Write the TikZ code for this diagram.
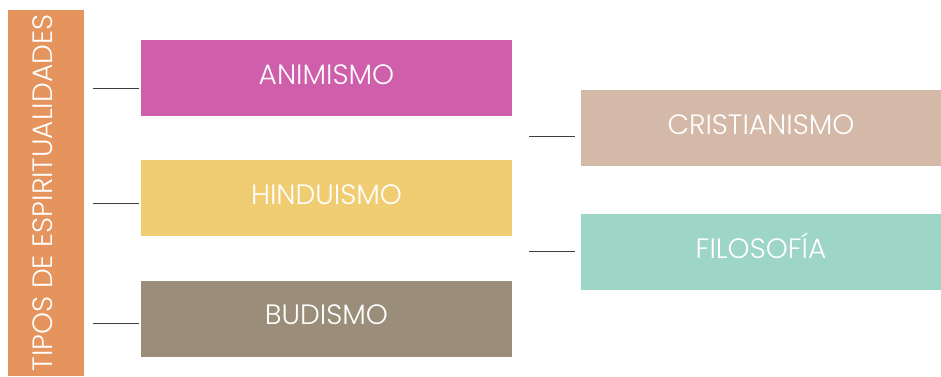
\documentclass[tikz,border=0pt]{standalone}
\usepackage{fontspec}
\setmainfont{Poppins}[UprightFont={* Light}]
\usepackage{tikz}
\usetikzlibrary{positioning}

\definecolor{tiposorange}{HTML}{E4945C}
\definecolor{animismocol}{HTML}{D05FAB}
\definecolor{hinduismocol}{HTML}{F0CC72}
\definecolor{budismocol}{HTML}{9A8D7A}
\definecolor{cristianocol}{HTML}{D4B9A9}
\definecolor{filosofiacol}{HTML}{9DD5C7}

\begin{document}
\begin{tikzpicture}[
  node distance=44pt,
  tipobox/.style={
    rectangle, inner sep=0pt, text=white,
    minimum width=371pt, minimum height=76pt,
    text height=20pt, text depth=8pt,
    font=\fontsize{28}{32}\selectfont
  },
  link/.style={draw=black!75, line width=1pt}
]
\useasboundingbox (0,0) rectangle (941pt,-376pt);

\node (tipos) [tipobox, fill=tiposorange, rotate=90,
  minimum width=366pt, minimum height=76pt] at (46pt,-193pt)
  {TIPOS DE ESPIRITUALIDADES};

\node (animismo) [tipobox, fill=animismocol] at (326.5pt,-78pt) {ANIMISMO};
\node (hinduismo) [tipobox, fill=hinduismocol, below=of animismo] {HINDUISMO};
\node (budismo) [tipobox, fill=budismocol, below=of hinduismo] {BUDISMO};

\node (cristianismo) [tipobox, fill=cristianocol, minimum width=360pt]
  at (761pt,-128pt) {CRISTIANISMO};
\node (filosofia) [tipobox, fill=filosofiacol, minimum width=360pt,
  below=48pt of cristianismo] {FILOSOFÍA};

% free ends of the short lines
\coordinate (a1) at ([xshift=-2pt,yshift=-10pt]animismo.west);
\coordinate (a0) at ([xshift=-46pt]a1);
\coordinate (h1) at ([xshift=-2pt,yshift=-5pt]hinduismo.west);
\coordinate (h0) at ([xshift=-46pt]h1);
\coordinate (b1) at ([xshift=-2pt,yshift=-5pt]budismo.west);
\coordinate (b0) at ([xshift=-46pt]b1);
\coordinate (c1) at ([xshift=-6pt,yshift=-8pt]cristianismo.west);
\coordinate (c0) at ([xshift=-46pt]c1);
\coordinate (f1) at ([xshift=-6pt,yshift=1pt]filosofia.west);
\coordinate (f0) at ([xshift=-46pt]f1);

\draw[link] (a0) -- (a1);
\draw[link] (h0) -- (h1);
\draw[link] (b0) -- (b1);
\draw[link] (c0) -- (c1);
\draw[link] (f0) -- (f1);
\end{tikzpicture}
\end{document}
